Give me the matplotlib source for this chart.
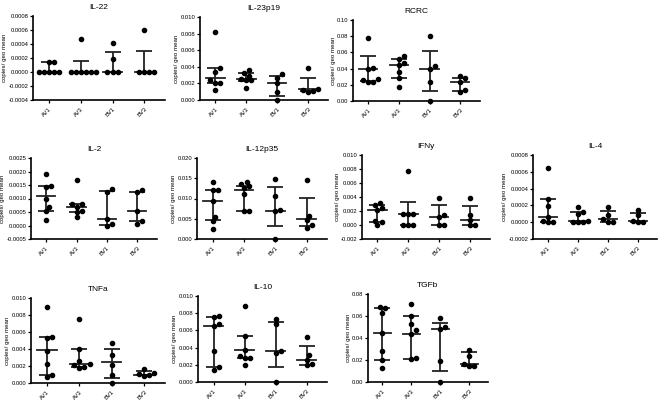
import numpy as np
import matplotlib
matplotlib.use("Agg")
import matplotlib.pyplot as plt
from matplotlib.ticker import FormatStrFormatter

plt.rcParams['font.family'] = ['Liberation Sans', 'DejaVu Sans']

W, H = 659, 400
groups = ["AV1", "AV3", "BV1", "BV3"]

# === DANE ===
il22_vals = [[0, 0, 0, 0, 0, 0.00015, 0.00015],
             [0, 0, 0, 0, 0, 0, 0.00047],
             [0, 0, 0, 0.00018, 0.00042],
             [0, 0, 0, 0, 0.0006]]
il22_med = [0, 0, 0, 0]
il22_q1 = [0, 0, 0, 0]
il22_q3 = [0.00015, 0.00016, 0.00029, 0.0003]

il23_vals = [[0.0082, 0.0038, 0.0034, 0.0024, 0.0021, 0.0020, 0.0012],
             [0.0036, 0.0033, 0.0029, 0.0025, 0.0024, 0.0024, 0.0014],
             [0.0031, 0.0027, 0.0020, 0.0010, 0.0],
             [0.0038, 0.0013, 0.0012, 0.0011, 0.0010]]
il23_med = [0.0026, 0.0025, 0.0020, 0.0013]
il23_q1 = [0.0020, 0.0023, 0.0005, 0.0011]
il23_q3 = [0.0039, 0.0033, 0.0029, 0.0026]

rcrc_vals = [[0.078, 0.041, 0.039, 0.027, 0.026, 0.024, 0.024],
             [0.055, 0.052, 0.047, 0.044, 0.036, 0.029, 0.017],
             [0.080, 0.043, 0.039, 0.023, 0.0],
             [0.031, 0.028, 0.024, 0.013, 0.011]]
rcrc_med = [0.039, 0.045, 0.039, 0.024]
rcrc_q1 = [0.025, 0.029, 0.012, 0.012]
rcrc_q3 = [0.056, 0.052, 0.062, 0.028]

il2_vals = [[0.0019, 0.00145, 0.00143, 0.0010, 0.0007, 0.00055, 0.0002],
            [0.0017, 0.0008, 0.00078, 0.0007, 0.00055, 0.0005, 0.00033],
            [0.00137, 0.00125, 0.00025, 0.00005, 0.0],
            [0.0013, 0.00125, 0.00055, 0.00015, 0.00005]]
il2_med = [0.0011, 0.0007, 0.00025, 0.00055]
il2_q1 = [0.00053, 0.0005, 0.00002, 0.00015]
il2_q3 = [0.00147, 0.0008, 0.00127, 0.00125]

il12_vals = [[0.014, 0.0122, 0.0120, 0.0095, 0.0055, 0.0045, 0.0025],
             [0.014, 0.0135, 0.013, 0.0125, 0.011, 0.0068, 0.0068],
             [0.0147, 0.0107, 0.0072, 0.0068, 0.0],
             [0.0146, 0.0058, 0.0048, 0.0034, 0.0027]]
il12_med = [0.0093, 0.012, 0.0070, 0.005]
il12_q1 = [0.0047, 0.0068, 0.0033, 0.0033]
il12_q3 = [0.0122, 0.013, 0.0128, 0.0102]

ifny_vals = [[0.0031, 0.0028, 0.0025, 0.0022, 0.0006, 0.0004, 0.0],
             [0.0077, 0.0016, 0.0016, 0.0016, 0.0, 0.0, 0.0],
             [0.0039, 0.0015, 0.0011, 0.0, 0.0],
             [0.0039, 0.0015, 0.0007, 0.0, 0.0]]
ifny_med = [0.0022, 0.0016, 0.0011, 0.0007]
ifny_q1 = [0.0005, 0.0, 0.0, 0.0]
ifny_q3 = [0.0029, 0.0033, 0.0028, 0.0027]

il4_vals = [[0.00065, 0.00028, 0.00019, 0.00006, 0.00001, 0.0, 0.0],
            [0.00018, 0.00012, 0.0001, 0.00001, 0.0, 0.0, 0.0],
            [0.00018, 0.00008, 0.00004, 0.0, 0.0],
            [0.00014, 0.00008, 0.00002, 0.0, 0.0]]
il4_med = [0.00006, 0.00001, 0.00004, 0.00002]
il4_q1 = [0.0, 0.0, 0.0, 0.0]
il4_q3 = [0.00028, 0.00012, 0.00013, 0.00011]

tnfa_vals = [[0.009, 0.0054, 0.0053, 0.0038, 0.0022, 0.0009, 0.0007],
             [0.0075, 0.0040, 0.0026, 0.0022, 0.0021, 0.0019, 0.0018],
             [0.0047, 0.0033, 0.0021, 0.0010, 0.0],
             [0.0016, 0.0012, 0.0011, 0.0010, 0.0008]]
tnfa_med = [0.0039, 0.0022, 0.0025, 0.001]
tnfa_q1 = [0.0009, 0.0019, 0.0006, 0.0009]
tnfa_q3 = [0.0054, 0.0040, 0.0040, 0.0014]

il10_vals = [[0.0077, 0.0076, 0.0068, 0.0065, 0.0036, 0.0018, 0.0014],
             [0.0088, 0.0054, 0.0037, 0.0030, 0.0028, 0.0028, 0.0020],
             [0.0073, 0.0067, 0.0036, 0.0034, 0.0],
             [0.0052, 0.0031, 0.0026, 0.0021, 0.0020]]
il10_med = [0.0065, 0.0037, 0.0036, 0.0026]
il10_q1 = [0.0018, 0.0028, 0.0017, 0.0020]
il10_q3 = [0.0076, 0.0054, 0.0070, 0.0042]

tgfb_vals = [[0.068, 0.067, 0.063, 0.045, 0.028, 0.020, 0.013],
             [0.071, 0.060, 0.053, 0.047, 0.044, 0.022, 0.021],
             [0.058, 0.050, 0.048, 0.019, 0.0],
             [0.029, 0.024, 0.016, 0.015, 0.015]]
tgfb_med = [0.045, 0.044, 0.048, 0.016]
tgfb_q1 = [0.020, 0.021, 0.010, 0.015]
tgfb_q3 = [0.067, 0.060, 0.054, 0.027]

# === PANELE: tytuł, dane, osie (ymin, ymax, krok, format), ramka w px (lewo, góra, prawo, dół) ===
panels = [
    ("IL-22", il22_vals, il22_med, il22_q1, il22_q3, (-0.0004, 0.0008, 0.0002, "%.4f"), (33, 16, 165, 100)),
    ("IL-23p19", il23_vals, il23_med, il23_q1, il23_q3, (0, 0.010, 0.002, "%.3f"), (200, 17, 328, 100)),
    ("RCRC", rcrc_vals, rcrc_med, rcrc_q1, rcrc_q3, (0, 0.10, 0.02, "%.2f"), (353, 20, 480, 101)),
    ("IL-2", il2_vals, il2_med, il2_q1, il2_q3, (-0.0005, 0.0025, 0.0005, "%.4f"), (31, 158, 157, 239)),
    ("IL-12p35", il12_vals, il12_med, il12_q1, il12_q3, (0, 0.020, 0.005, "%.3f"), (197, 158, 327, 239)),
    ("IFNy", ifny_vals, ifny_med, ifny_q1, ifny_q3, (-0.002, 0.010, 0.002, "%.3f"), (362, 155, 490, 239)),
    ("IL-4", il4_vals, il4_med, il4_q1, il4_q3, (-0.0002, 0.0008, 0.0002, "%.4f"), (533, 155, 657, 239)),
    ("TNFa", tnfa_vals, tnfa_med, tnfa_q1, tnfa_q3, (0, 0.010, 0.002, "%.3f"), (31, 298, 165, 383)),
    ("IL-10", il10_vals, il10_med, il10_q1, il10_q3, (0, 0.010, 0.002, "%.3f"), (198, 296, 327, 382)),
    ("TGFb", tgfb_vals, tgfb_med, tgfb_q1, tgfb_q3, (0, 0.08, 0.02, "%.2f"), (368, 294, 488, 382)),
]

XLIM = (-0.5, 3.65)
DOT_PX = 4.2


def swarm_offsets(vals, px_per_y, px_per_x):
    # prosty "beeswarm": rozsuwa kropki, które by się nakładały
    order = np.argsort(vals)
    placed = []
    offs = np.zeros(len(vals))
    for i in order:
        y = vals[i] * px_per_y
        for k in range(0, 20):
            cand = [0] if k == 0 else [k * DOT_PX * 0.6, -k * DOT_PX * 0.6]
            ok_c = None
            for c in cand:
                if all((c - px) ** 2 + (y - py) ** 2 >= (DOT_PX * 1.05) ** 2 for px, py in placed):
                    ok_c = c
                    break
            if ok_c is not None:
                placed.append((ok_c, y))
                offs[i] = ok_c / px_per_x
                break
    return offs


fig = plt.figure(figsize=(W / 100, H / 100), dpi=100)

for title, vals, med, q1, q3, (ymin, ymax, step, fmt), (l, t, r, b) in panels:
    ax = fig.add_axes([l / W, 1 - b / H, (r - l) / W, (b - t) / H])
    ax.set_xlim(*XLIM)
    ax.set_ylim(ymin, ymax)
    px_per_x = (r - l) / (XLIM[1] - XLIM[0])
    px_per_y = (b - t) / (ymax - ymin)

    for i, g in enumerate(groups):
        v = np.array(vals[i])
        offs = swarm_offsets(v, px_per_y, px_per_x)
        ax.plot(i + offs, v, 'o', color='black', markersize=3.0, zorder=3, clip_on=False)
        ax.plot([i - 0.3, i + 0.3], [med[i], med[i]], color='#222222', lw=1.3, zorder=2)
        ax.errorbar(i, med[i], yerr=[[med[i] - q1[i]], [q3[i] - med[i]]], fmt='none',
                    ecolor='#222222', elinewidth=1.3, capsize=6, capthick=1.3, zorder=2)

    ax.set_yticks(np.arange(ymin, ymax + step / 2, step))
    ax.yaxis.set_major_formatter(FormatStrFormatter(fmt))
    ax.set_xticks(range(len(groups)))
    ax.set_xticklabels(groups, rotation=45, ha='right', va='top', rotation_mode='anchor')
    ax.tick_params(axis='both', labelsize=4.2, length=2, width=0.9, pad=1.2, colors='black')
    ax.tick_params(axis='x', pad=2.5)
    for s in ['top', 'right']:
        ax.spines[s].set_visible(False)
    for s in ['left', 'bottom']:
        ax.spines[s].set_linewidth(1.2)
    ax.set_ylabel("copies/ geo mean", fontsize=4.4, labelpad=1)
    ax.set_title(title, fontsize=6, pad=5)

fig.savefig("out.png", dpi=100)
